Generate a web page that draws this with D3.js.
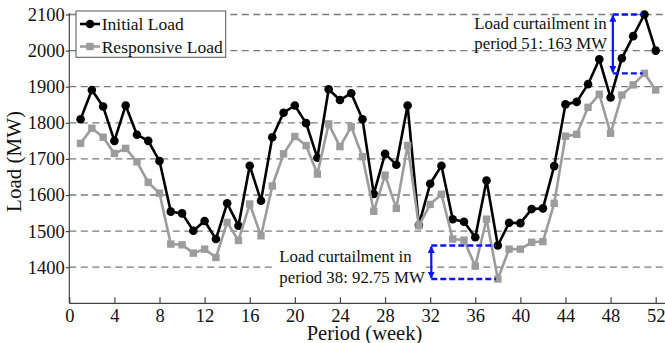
<!DOCTYPE html>
<html>
<head>
<meta charset="utf-8">
<script src="https://cdn.jsdelivr.net/npm/d3@7"></script>
<style>
  html, body { margin: 0; padding: 0; background: #fff; }
  svg { display: block; }
  text { font-family: "Liberation Serif", "Times New Roman", serif; fill: #111; }
</style>
</head>
<body>
<svg id="chart" width="665" height="343"></svg>
<script>
// Weekly load over one year (MW)
const weeks = d3.range(1, 53);
const initialLoad = [
  1810, 1891, 1845, 1750, 1848, 1767, 1750, 1694, 1554, 1549,
  1501, 1528, 1478, 1577, 1515, 1681, 1584, 1760, 1828, 1848,
  1799, 1703, 1893, 1863, 1882, 1810, 1603, 1714, 1684, 1848,
  1517, 1631, 1681, 1533, 1526, 1483, 1640, 1460, 1523, 1522,
  1561, 1563, 1680, 1851, 1858, 1907, 1976, 1870, 1979, 2040,
  2100, 2000
];
const responsiveLoad = [
  1743, 1785, 1760, 1715, 1729, 1692, 1635, 1605, 1464, 1462,
  1439, 1450, 1427, 1524, 1474, 1575, 1487, 1625, 1714, 1762,
  1737, 1658, 1797, 1734, 1789, 1706, 1555, 1655, 1563, 1737,
  1515, 1574, 1602, 1478, 1475, 1403, 1533, 1367.25, 1450, 1450,
  1469, 1471, 1577, 1763, 1768, 1843, 1879, 1771, 1877, 1905,
  1937, 1891
];
const xTicks = [0, 4, 8, 12, 16, 20, 24, 28, 32, 36, 40, 44, 48, 52];
const yTicks = [1400, 1500, 1600, 1700, 1800, 1900, 2000, 2100];
const seriesNames = ["Initial Load", "Responsive Load"];

// Curtailment call-outs: period, bracket arrow position (week), text lines
const callouts = [
  { period: 38, arrowAt: 32.1, lines: ["Load curtailment in", "period 38: 92.75 MW"] },
  { period: 51, arrowAt: 48.2, lines: ["Load curtailment in", "period 51: 163 MW"] }
];

const SERIF = "'Liberation Serif', 'Times New Roman', serif";
const svg = d3.select("#chart");
const W = 665;
const x = d3.scaleLinear().domain([0, 52]).range([69.3, 655.7]);
const y = d3.scaleLinear().domain([1300, 2100]).range([303.3, 14.5]);

const BLACK = "#000";
const GRAY = "#9c9c9c";
const BLUE = "#0a14ff";

// Dashed horizontal grid
svg.append("g").selectAll("line").data(yTicks).join("line")
  .attr("x1", x(0)).attr("x2", W)
  .attr("y1", d => y(d)).attr("y2", d => y(d))
  .attr("stroke", "#7a7a7a").attr("stroke-width", 1.3)
  .attr("stroke-dasharray", "7,4.5");

// Axes
const xAxis = d3.axisBottom(x).tickValues(xTicks).tickSize(-6).tickPadding(6).tickFormat(d3.format("d"));
const gx = svg.append("g").attr("transform", `translate(0,${y(1300)})`).call(xAxis)
  .attr("font-family", SERIF).attr("font-size", 18.5);
gx.select(".domain").attr("d", `M${x(0)},0H${W}`).attr("stroke", "#444").attr("stroke-width", 1.2);
gx.selectAll(".tick line").attr("stroke", "#444").attr("stroke-width", 1.2);
gx.selectAll("text").attr("fill", "#111").style("font-family", SERIF);

const yAxis = d3.axisLeft(y).tickValues(yTicks).tickSize(3.5).tickPadding(1).tickFormat(d3.format("d"));
const gy = svg.append("g").attr("transform", `translate(${x(0)},0)`).call(yAxis)
  .attr("font-family", SERIF).attr("font-size", 18.5);
gy.select(".domain").attr("d", `M0,${y(1300)}V${y(2100) - 1.5}`).attr("stroke", "#444").attr("stroke-width", 1.2);
gy.selectAll(".tick line").attr("stroke", "#444").attr("stroke-width", 1.2);
gy.selectAll("text").attr("fill", "#111").style("font-family", SERIF);

// Axis titles
svg.append("text")
  .attr("x", (x(0) + x(52)) / 2 + 2).attr("y", 340)
  .attr("text-anchor", "middle").attr("font-size", 20.5)
  .text("Period (week)");
svg.append("text")
  .attr("transform", `translate(21,${161.5}) rotate(-90)`)
  .attr("text-anchor", "middle").attr("font-size", 21)
  .text("Load (MW)");

// Series
const line = d3.line().x((d, i) => x(weeks[i])).y(d => y(d));

svg.append("path").datum(initialLoad)
  .attr("d", line).attr("fill", "none")
  .attr("stroke", BLACK).attr("stroke-width", 2.6).attr("stroke-linejoin", "round");
svg.append("g").selectAll("circle").data(initialLoad).join("circle")
  .attr("cx", (d, i) => x(weeks[i])).attr("cy", d => y(d))
  .attr("r", 4.3).attr("fill", BLACK);

svg.append("path").datum(responsiveLoad)
  .attr("d", line).attr("fill", "none")
  .attr("stroke", GRAY).attr("stroke-width", 2.6).attr("stroke-linejoin", "round");
const sq = 7.4;
svg.append("g").selectAll("rect").data(responsiveLoad).join("rect")
  .attr("x", (d, i) => x(weeks[i]) - sq / 2).attr("y", d => y(d) - sq / 2)
  .attr("width", sq).attr("height", sq).attr("fill", GRAY);

// Curtailment brackets
const defs = svg.append("defs");
defs.append("marker").attr("id", "arrowHead")
  .attr("viewBox", "0 0 10 10").attr("refX", 9).attr("refY", 5)
  .attr("markerWidth", 3.2).attr("markerHeight", 3.2)
  .attr("orient", "auto-start-reverse")
  .append("path").attr("d", "M0,0L10,5L0,10Z").attr("fill", BLUE);

callouts.forEach(c => {
  const top = initialLoad[c.period - 1];
  const bottom = responsiveLoad[c.period - 1];
  const g = svg.append("g");
  [top, bottom].forEach(v => {
    g.append("line")
      .attr("x1", x(c.arrowAt)).attr("x2", x(c.period - 0.15))
      .attr("y1", y(v)).attr("y2", y(v))
      .attr("stroke", BLUE).attr("stroke-width", 2.4)
      .attr("stroke-dasharray", "6,3");
  });
  g.append("line")
    .attr("x1", x(c.arrowAt)).attr("x2", x(c.arrowAt))
    .attr("y1", y(top) + 1).attr("y2", y(bottom) - 1)
    .attr("stroke", BLUE).attr("stroke-width", 2.2)
    .attr("marker-start", "url(#arrowHead)")
    .attr("marker-end", "url(#arrowHead)");
});

// Call-out text
const lowText = svg.append("g");
lowText.append("rect").attr("x", 276).attr("y", 248).attr("width", 148).attr("height", 40).attr("fill", "#fff");
lowText.selectAll("text").data(callouts[0].lines).join("text")
  .attr("x", 279.3).attr("y", (d, i) => 261.7 + i * 21)
  .attr("font-size", 16.8).text(d => d);

svg.append("g").selectAll("text").data(callouts[1].lines).join("text")
  .attr("x", 474.3).attr("y", (d, i) => 29.3 + i * 19.2)
  .attr("font-size", 16.8).text(d => d);

// Legend
const lg = svg.append("g");
lg.append("rect").attr("x", 76).attr("y", 11).attr("width", 149.7).attr("height", 46.3)
  .attr("fill", "#fff").attr("stroke", "#555").attr("stroke-width", 1);
const ly = [24, 46.5];
lg.append("line").attr("x1", 80).attr("x2", 100).attr("y1", ly[0]).attr("y2", ly[0])
  .attr("stroke", BLACK).attr("stroke-width", 2.6);
lg.append("circle").attr("cx", 90).attr("cy", ly[0]).attr("r", 4.3).attr("fill", BLACK);
lg.append("line").attr("x1", 80).attr("x2", 100).attr("y1", ly[1]).attr("y2", ly[1])
  .attr("stroke", GRAY).attr("stroke-width", 2.6);
lg.append("rect").attr("x", 90 - sq / 2).attr("y", ly[1] - sq / 2).attr("width", sq).attr("height", sq).attr("fill", GRAY);
lg.selectAll("text.lbl").data(seriesNames).join("text").attr("class", "lbl")
  .attr("x", 101.7).attr("y", (d, i) => ly[i] + 6)
  .attr("font-size", 17.5).text(d => d);
</script>
</body>
</html>
